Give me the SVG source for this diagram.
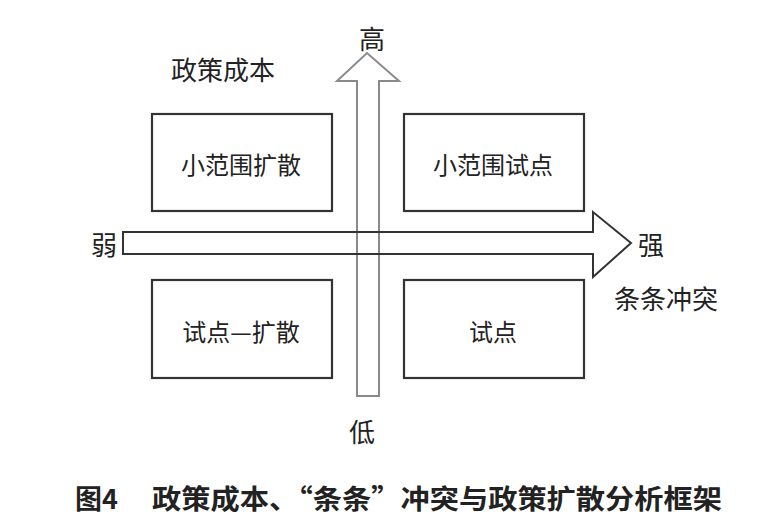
<svg xmlns="http://www.w3.org/2000/svg" width="770" height="522" viewBox="0 0 770 522">
<style>
.box{fill:none;stroke:#333;stroke-width:2.2}
.t{font-family:"Noto Sans CJK SC","Noto Sans CJK JP",sans-serif;fill:#222;font-size:24px;text-anchor:middle;dominant-baseline:central}
.lbl{font-size:26px}
.cap{font-family:"Noto Sans CJK SC",sans-serif;font-weight:bold;fill:#222;font-size:27px;dominant-baseline:central}
</style>
<rect width="770" height="522" fill="#fff"/>
<g id="connectors">
<path id="arrow-vertical" d="M357,396 L357,81 L337,81 L367,53 L399,81 L379,81 L379,396 Z" fill="none" stroke="#8a8a8a" stroke-width="2"/>
<path id="arrow-horizontal" d="M123,232 L593,232 L593,212 L631,243 L593,277 L593,254 L123,254 Z" fill="none" stroke="#333" stroke-width="2"/>
</g>
<g id="box-tl"><rect class="box" x="152" y="114" width="180" height="97"/><text class="t" x="241" y="163">小范围扩散</text></g>
<g id="box-tr"><rect class="box" x="404" y="114" width="180" height="97"/><text class="t" x="493" y="163">小范围试点</text></g>
<g id="box-bl"><rect class="box" x="152" y="280" width="180" height="98"/><text class="t" x="241" y="330">试点—扩散</text></g>
<g id="box-br"><rect class="box" x="404" y="280" width="180" height="98"/><text class="t" x="493" y="330">试点</text></g>
<g id="labels">
<text class="t lbl" x="223" y="68">政策成本</text>
<text class="t lbl" x="372" y="37">高</text>
<text class="t lbl" x="362" y="430">低</text>
<text class="t lbl" x="104" y="243">弱</text>
<text class="t lbl" x="651" y="243">强</text>
<text class="t lbl" x="666" y="297">条条冲突</text>
</g>
<g id="caption">
<text class="cap" x="75" y="497">图4</text>
<text class="cap" x="152" y="497" textLength="570" lengthAdjust="spacingAndGlyphs">政策成本、“条条”冲突与政策扩散分析框架</text>
</g>
</svg>
